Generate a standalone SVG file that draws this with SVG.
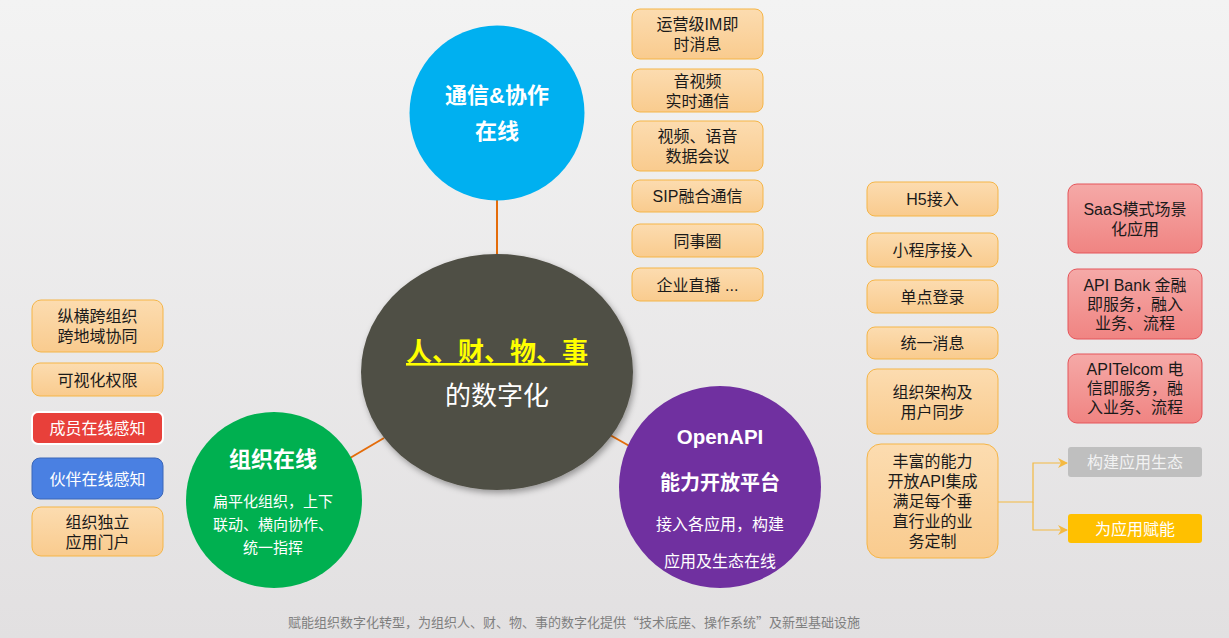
<svg xmlns="http://www.w3.org/2000/svg" width="1229" height="638" viewBox="0 0 1229 638">
<defs>
<linearGradient id="bg" x1="0" y1="0" x2="0" y2="1"><stop offset="0" stop-color="#f3f3f3"/><stop offset="1" stop-color="#e2e0e1"/></linearGradient>
<linearGradient id="og" x1="0" y1="0" x2="0" y2="1"><stop offset="0" stop-color="#fcdcb0"/><stop offset="1" stop-color="#f9cb8e"/></linearGradient>
<linearGradient id="rg" x1="0" y1="0" x2="0" y2="1"><stop offset="0" stop-color="#f5a9a7"/><stop offset="1" stop-color="#f08482"/></linearGradient>
<filter id="sh" x="-20%" y="-20%" width="140%" height="140%"><feDropShadow dx="2" dy="3" stdDeviation="3" flood-color="#000" flood-opacity="0.35"/></filter>
<marker id="arr" viewBox="0 0 10 10" refX="9" refY="5" markerWidth="10" markerHeight="10" markerUnits="userSpaceOnUse" orient="auto"><path d="M0,0 L10,5 L0,10 L3,5 z" fill="#f4b942"/></marker>
<style>
text{font-family:"Liberation Sans","Noto Sans CJK SC",sans-serif;text-anchor:middle}
.ob{fill:url(#og);stroke:#f5b547;stroke-width:1}
.rb{fill:url(#rg);stroke:#e5545a;stroke-width:1}
.bt{font-size:16px;fill:#1a1a1a}
.wt{fill:#fff}
.conn{stroke:#e46c0a;stroke-width:2;fill:none}
</style>
</defs>
<rect width="1229" height="638" fill="url(#bg)"/>

<g id="connectors">
<line class="conn" x1="497" y1="200" x2="497" y2="254"/>
<line class="conn" x1="350" y1="458" x2="384" y2="438"/>
<line class="conn" x1="610" y1="435" x2="633" y2="448"/>
<path d="M998,502 H1033 V463 H1067" fill="none" stroke="#f4b942" stroke-width="1.2" marker-end="url(#arr)"/>
<path d="M1033,502 V530 H1067" fill="none" stroke="#f4b942" stroke-width="1.2" marker-end="url(#arr)"/>
</g>

<g id="center">
<ellipse cx="497" cy="372" rx="136" ry="118" fill="#504f45" filter="url(#sh)"/>
<text x="497" y="361" font-size="26" font-weight="bold" fill="#ffff00" text-decoration="underline">人、财、物、事</text>
<text x="497" y="405" font-size="26" class="wt">的数字化</text>
</g>

<g id="comm">
<circle cx="497" cy="113" r="87.5" fill="#00b0f0"/>
<text x="497" y="103" font-size="22" font-weight="bold" class="wt">通信&amp;协作</text>
<text x="497" y="139" font-size="22" font-weight="bold" class="wt">在线</text>
</g>

<g id="org">
<circle cx="274" cy="500" r="88" fill="#00b050"/>
<text x="273" y="467" font-size="22" font-weight="bold" class="wt">组织在线</text>
<text x="273" y="507" font-size="15" class="wt">扁平化组织，上下</text>
<text x="273" y="530" font-size="15" class="wt">联动、横向协作、</text>
<text x="273" y="553" font-size="15" class="wt">统一指挥</text>
</g>

<g id="openapi">
<circle cx="720" cy="487" r="101" fill="#7030a0"/>
<text x="720" y="444" font-size="20.5" font-weight="bold" class="wt">OpenAPI</text>
<text x="720" y="490" font-size="20" font-weight="bold" class="wt">能力开放平台</text>
<text x="720" y="530" font-size="16" class="wt">接入各应用，构建</text>
<text x="720" y="567" font-size="16" class="wt">应用及生态在线</text>
</g>

<g id="top-boxes">
<g id="t1"><rect class="ob" x="632" y="9" width="131" height="50" rx="8"/><text class="bt" x="697.5" y="30">运营级IM即</text><text class="bt" x="697.5" y="50">时消息</text></g>
<g id="t2"><rect class="ob" x="632" y="69" width="131" height="43" rx="8"/><text class="bt" x="697.5" y="86.5">音视频</text><text class="bt" x="697.5" y="106.5">实时通信</text></g>
<g id="t3"><rect class="ob" x="632" y="121" width="131" height="50" rx="8"/><text class="bt" x="697.5" y="142">视频、语音</text><text class="bt" x="697.5" y="162">数据会议</text></g>
<g id="t4"><rect class="ob" x="632" y="180" width="131" height="32" rx="8"/><text class="bt" x="697.5" y="202">SIP融合通信</text></g>
<g id="t5"><rect class="ob" x="632" y="224" width="131" height="33" rx="8"/><text class="bt" x="697.5" y="246.5">同事圈</text></g>
<g id="t6"><rect class="ob" x="632" y="268" width="131" height="33" rx="8"/><text class="bt" x="697.5" y="290.5">企业直播 ...</text></g>
</g>

<g id="right-boxes">
<g id="r1"><rect class="ob" x="867" y="182" width="131" height="34" rx="8"/><text class="bt" x="932.5" y="205">H5接入</text></g>
<g id="r2"><rect class="ob" x="867" y="233" width="131" height="34" rx="8"/><text class="bt" x="932.5" y="256">小程序接入</text></g>
<g id="r3"><rect class="ob" x="867" y="280" width="131" height="33" rx="8"/><text class="bt" x="932.5" y="302.5">单点登录</text></g>
<g id="r4"><rect class="ob" x="867" y="327" width="131" height="32" rx="8"/><text class="bt" x="932.5" y="349">统一消息</text></g>
<g id="r5"><rect class="ob" x="867" y="369" width="131" height="65" rx="10"/><text class="bt" x="932.5" y="397.5">组织架构及</text><text class="bt" x="932.5" y="417.5">用户同步</text></g>
<g id="r6"><rect class="ob" x="867" y="444" width="131" height="114" rx="14"/>
<text class="bt" x="932.5" y="467">丰富的能力</text><text class="bt" x="932.5" y="487">开放API集成</text><text class="bt" x="932.5" y="507">满足每个垂</text><text class="bt" x="932.5" y="527">直行业的业</text><text class="bt" x="932.5" y="547">务定制</text></g>
</g>

<g id="far-right">
<g id="f1"><rect class="rb" x="1068" y="184" width="134" height="69" rx="9"/><text class="bt" x="1135" y="215">SaaS模式场景</text><text class="bt" x="1135" y="235">化应用</text></g>
<g id="f2"><rect class="rb" x="1068" y="269" width="134" height="70" rx="9"/><text class="bt" x="1135" y="291">API Bank 金融</text><text class="bt" x="1135" y="310">即服务，融入</text><text class="bt" x="1135" y="329">业务、流程</text></g>
<g id="f3"><rect class="rb" x="1068" y="354" width="134" height="69" rx="9"/><text class="bt" x="1135" y="375">APITelcom 电</text><text class="bt" x="1135" y="394">信即服务，融</text><text class="bt" x="1135" y="413">入业务、流程</text></g>
<g id="f4"><rect x="1068" y="447" width="134" height="30" rx="3" fill="#bfbfbf"/><text class="bt" x="1135" y="468" style="fill:#f2f2f2">构建应用生态</text></g>
<g id="f5"><rect x="1068" y="514" width="134" height="29" rx="3" fill="#ffc000"/><text class="bt" x="1135" y="534.5" style="fill:#fff">为应用赋能</text></g>
</g>

<g id="left-boxes">
<g id="l1"><rect class="ob" x="32" y="300" width="131" height="52" rx="9"/><text class="bt" x="97.5" y="322">纵横跨组织</text><text class="bt" x="97.5" y="342">跨地域协同</text></g>
<g id="l2"><rect class="ob" x="32" y="363" width="131" height="33" rx="8"/><text class="bt" x="97.5" y="385.5">可视化权限</text></g>
<g id="l3"><rect x="32" y="412" width="131" height="32" rx="6" fill="#e8403a" stroke="#fff" stroke-width="2"/><text class="bt" x="97.5" y="434" style="fill:#fff">成员在线感知</text></g>
<g id="l4"><rect x="32" y="458" width="131" height="41" rx="8" fill="#4a80e2" stroke="#3a66b8" stroke-width="1"/><text class="bt" x="97.5" y="484.5" style="fill:#fff">伙伴在线感知</text></g>
<g id="l5"><rect class="ob" x="32" y="507" width="131" height="49" rx="9"/><text class="bt" x="97.5" y="527.5">组织独立</text><text class="bt" x="97.5" y="547.5">应用门户</text></g>
</g>

<text x="574" y="627" font-size="13" fill="#7f7f7f" style="font-family:'Noto Sans CJK SC',sans-serif">赋能组织数字化转型，为组织人、财、物、事的数字化提供“技术底座、操作系统”及新型基础设施</text>
</svg>
